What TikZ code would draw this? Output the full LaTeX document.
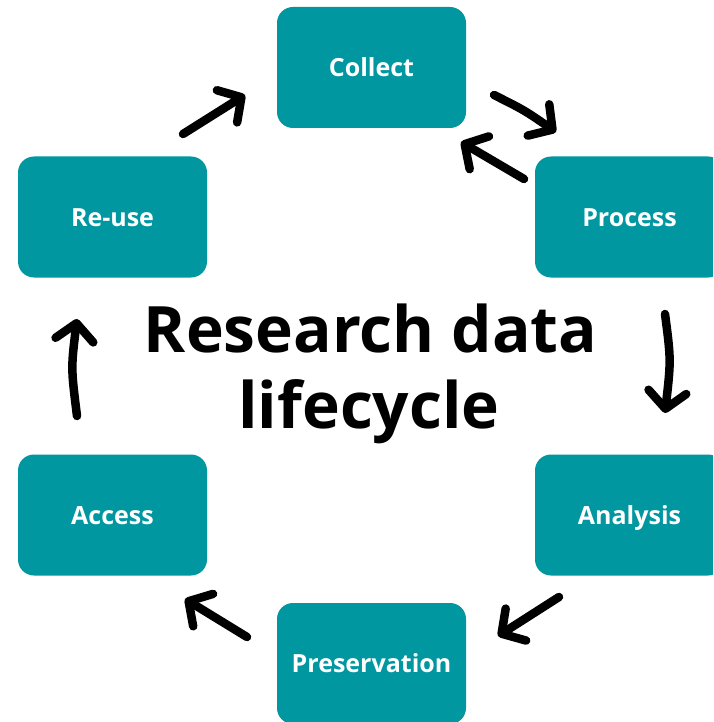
\documentclass[tikz,border=0pt]{standalone}
\usepackage{fontspec}
\setmainfont{Open Sans}
\usetikzlibrary{arrows.meta}
\definecolor{boxteal}{HTML}{0097A1}
\begin{document}
\begin{tikzpicture}[x=1pt,y=-1pt,
  stage/.style={rectangle, rounded corners=16pt, fill=boxteal, draw=none,
    minimum width=189pt, minimum height=121pt, inner sep=0pt,
    text=white, font=\fontsize{25}{30}\selectfont\bfseries,
    text height=18pt, text depth=0pt},
  titletext/.style={font=\fontsize{64}{76}\selectfont\bfseries, text=black, anchor=base, inner sep=0pt},
  flow/.style={line width=8.5pt, line cap=round, black,
    -{Straight Barb[length=17pt,width=38pt,round]}}
]
\useasboundingbox (0,0) rectangle (713,722);
\clip (0,0) rectangle (713,722);
\fill[white] (0,0) rectangle (713,722);

\node[stage] (collect) at (371.5,67.5) {Collect};
\node[stage] (process) at (629.5,217) {Process};
\node[stage] (reuse) at (112.5,217) {Re-use};
\node[stage] (access) at (112.5,515) {Access};
\node[stage] (analysis) at (629.5,515) {Analysis};
\node[stage] (preservation) at (371.5,663.5) {Preservation};

\node[titletext] (title1) at (370.5,352) {Research data};
\node[titletext] (title2) at (369,428) {lifecycle};

\coordinate (cpA) at (494,95);   \coordinate (cpB) at (556,132);
\coordinate (pcA) at (524,179);  \coordinate (pcB) at (461,142);
\coordinate (paA) at (665,314);  \coordinate (paB) at (665,413);
\coordinate (apA) at (559,597);  \coordinate (apB) at (498,636);
\coordinate (prA) at (247,637);  \coordinate (prB) at (185,599);
\coordinate (arA) at (77,416);   \coordinate (arB) at (77,319);
\coordinate (rcA) at (183,134);  \coordinate (rcB) at (245,95);

\draw[flow] (cpA) .. controls (524,110) .. (cpB);
\draw[flow] (pcA) -- (pcB);
\draw[flow] (paA) .. controls (671,360) .. (paB);
\draw[flow] (apA) -- (apB);
\draw[flow] (prA) -- (prB);
\draw[flow] (arA) .. controls (71,368) .. (arB);
\draw[flow] (rcA) -- (rcB);
\end{tikzpicture}
\end{document}
